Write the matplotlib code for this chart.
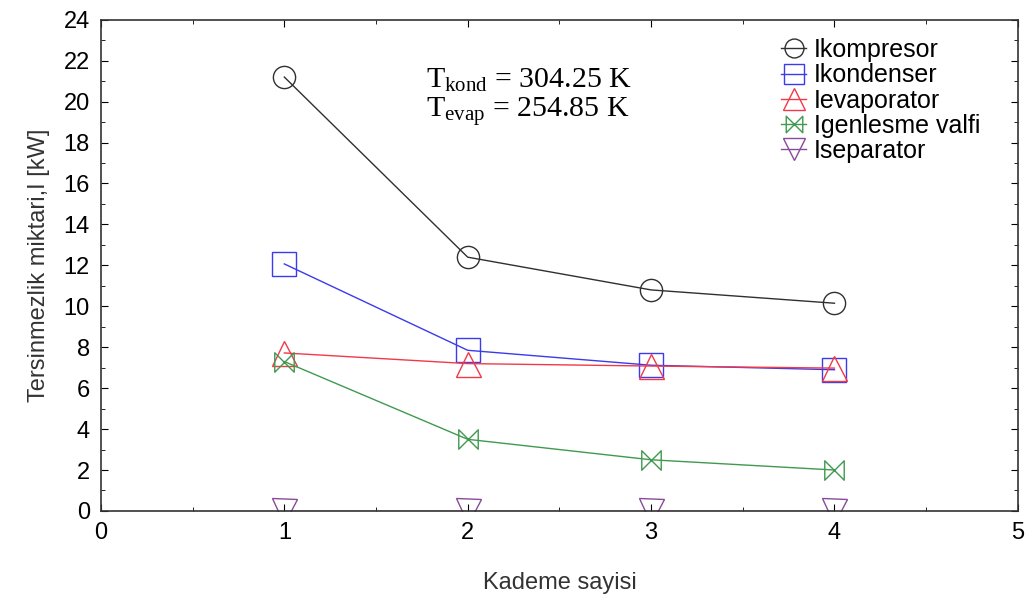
import matplotlib.pyplot as plt
from matplotlib.path import Path
import numpy as np

plt.rcParams['font.family'] = ['Liberation Sans', 'DejaVu Sans']
plt.rcParams['mathtext.fontset'] = 'custom'
plt.rcParams['mathtext.rm'] = 'Liberation Serif'

# kademe sayisi ve tersinmezlik degerleri [kW]
kademe = [1, 2, 3, 4]
i_kompresor = [21.2, 12.4, 10.8, 10.15]
i_kondenser = [12.07, 7.85, 7.12, 6.9]
i_evaporator = [7.72, 7.2, 7.08, 6.98]
i_genlesme = [7.3, 3.5, 2.5, 2.0]
i_separator = [0.0, 0.0, 0.0, 0.0]

# genlesme valfi sembolu (dikey kenarli papyon)
valf = Path([(-1, 1), (1, -1), (1, 1), (-1, -1), (-1, 1)],
            [Path.MOVETO, Path.LINETO, Path.LINETO, Path.LINETO, Path.CLOSEPOLY])

fig, ax = plt.subplots(figsize=(10.25, 5.99), dpi=100)
fig.subplots_adjust(left=0.0985, right=0.993, top=0.967, bottom=0.147)

stil = dict(lw=1.0, mfc='none', mew=1.0)
ax.plot(kademe, i_kompresor, marker='o', ms=16, color='#303030', label='Ikompresor', **stil)
ax.plot(kademe, i_kondenser, marker='s', ms=17, color='#3a3aef', label='Ikondenser', **stil)
ax.plot(kademe, i_evaporator, marker='^', ms=18, color='#f03a4a', label='Ievaporator', **stil)
ax.plot(kademe, i_genlesme, marker=valf, ms=14, color='#3f9a4f', label='Igenlesme valfi', **stil)
ax.plot(kademe, i_separator, marker='v', ms=18, color='#8a4a9a', label='Iseparator',
        clip_on=True, **stil)

ax.set_xlim(0, 5)
ax.set_ylim(0, 24)
ax.set_xticks(np.arange(0, 6, 1))
ax.set_yticks(np.arange(0, 25, 2))
ax.set_xticks(np.arange(0.5, 5, 1), minor=True)
ax.set_yticks(np.arange(1, 24, 2), minor=True)
ax.tick_params(which='both', direction='in', top=True, right=True, labelsize=17, pad=8)
ax.tick_params(which='major', length=5)
ax.tick_params(which='minor', length=3)
for s in ax.spines.values():
    s.set_linewidth(1.2)
    s.set_color('#333333')

ax.set_xlabel('Kademe sayisi', fontsize=17, labelpad=20, color='#333333')
ax.set_ylabel('Tersinmezlik miktari,I [kW]', fontsize=17, labelpad=10, color='#333333')

ax.text(0.354, 0.842, r'$\mathrm{T_{kond}}$ = 304.25 K' + '\n' + r'$\mathrm{T_{evap}}$ = 254.85 K',
        transform=ax.transAxes, fontsize=21.5, family='Liberation Serif',
        va='center', ha='left', linespacing=1.05)

leg = ax.legend(loc='upper right', frameon=False, fontsize=18, handlelength=1.0,
                handletextpad=0.3, labelspacing=0.05, bbox_to_anchor=(0.975, 0.993),
                borderaxespad=0.2, markerscale=0.85)

plt.savefig('out.png', dpi=100)
